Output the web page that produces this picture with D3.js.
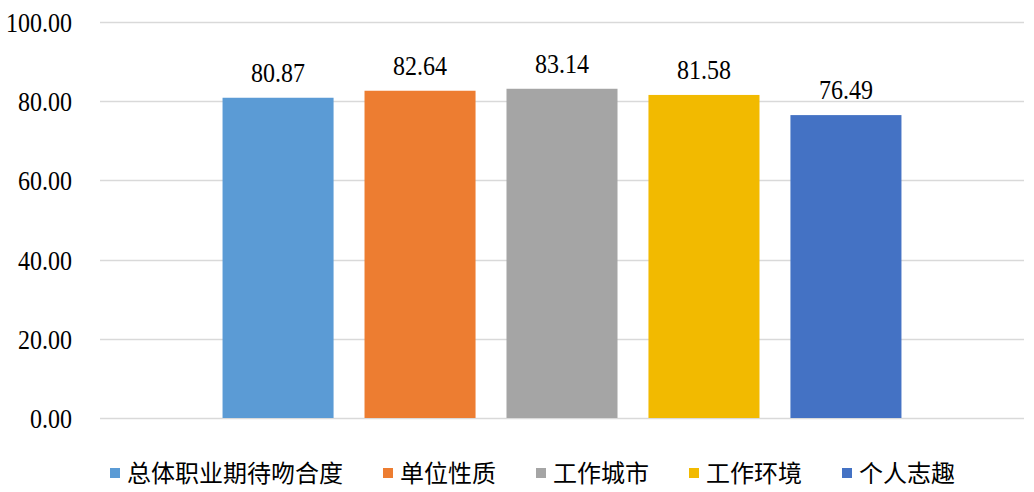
<!DOCTYPE html>
<html><head><meta charset="utf-8">
<script src="https://cdn.jsdelivr.net/npm/d3@7/dist/d3.min.js"></script>
<style>body{margin:0;background:#fff}svg{display:block}</style>
</head><body>
<svg id="c" width="1034" height="492"></svg>
<script>
const categories = ["总体职业期待吻合度", "单位性质", "工作城市", "工作环境", "个人志趣"];
const values = [80.87, 82.64, 83.14, 81.58, 76.49];
const colors = ["#5B9BD5", "#ED7D31", "#A5A5A5", "#F2BA00", "#4472C4"];
const yTicks = [0, 20, 40, 60, 80, 100];

const SERIF = '"Liberation Serif"';
const SERIF_PX = 28;      // rendered size (serif glyphs)
const SQUEEZE = 24 / 28;  // horizontal squeeze to match reference widths
const CJK = '"Noto Sans CJK SC"';

const svg = d3.select("#c");
const W = 1034, H = 492;
const m = {left: 100, right: 10, top: 22, bottom: 74};
const x0 = d3.scaleBand().domain(["g"]).range([m.left, W - m.right]).paddingInner(0).paddingOuter(0.1805);
const x = d3.scaleBand().domain(categories).range([x0("g"), x0("g") + x0.bandwidth()]).paddingInner(0.218).paddingOuter(0);
const y = d3.scaleLinear().domain([0, 100]).range([H - m.bottom, m.top]);

function squeeze(sel, anchorX, mode) {
  sel.each(function() {
    const node = this;
    const len = node.getComputedTextLength();
    const target = len * SQUEEZE;
    const ax = anchorX(node);
    const sx = mode === "end" ? ax - target : ax - target / 2;
    d3.select(node).attr("text-anchor", "start").attr("x", sx)
      .attr("textLength", target).attr("lengthAdjust", "spacingAndGlyphs");
  });
}

// gridlines
svg.append("g").selectAll("line").data(yTicks).join("line")
  .attr("x1", m.left).attr("x2", W - m.right)
  .attr("y1", d => Math.round(y(d)) + 0.5).attr("y2", d => Math.round(y(d)) + 0.5)
  .attr("stroke", "#D9D9D9").attr("stroke-width", 1.5);

// y axis labels
const yAxis = d3.axisLeft(y).tickValues(yTicks).tickFormat(d3.format(".2f")).tickSize(0).tickPadding(0);
const ga = svg.append("g").attr("transform", `translate(72,0)`).call(yAxis);
ga.select(".domain").remove();
ga.selectAll("text").style("font-family", SERIF).style("font-size", SERIF_PX + "px")
  .attr("fill", "#000").attr("dy", "0.34em").attr("text-anchor", "start").attr("x", 0);
squeeze(ga.selectAll("text"), () => 0, "end");

// bars
svg.append("g").selectAll("rect").data(values).join("rect")
  .attr("x", (d, i) => x(categories[i]))
  .attr("width", x.bandwidth())
  .attr("y", d => y(d))
  .attr("height", d => y(0) - y(d))
  .attr("fill", (d, i) => colors[i]);

// data labels
const labels = svg.append("g").selectAll("text").data(values).join("text")
  .attr("x", 0)
  .attr("y", d => y(d) - 16)
  .attr("text-anchor", "start")
  .style("font-family", SERIF).style("font-size", SERIF_PX + "px").attr("fill", "#000")
  .text(d => d.toFixed(2));
squeeze(labels, node => { const i = values.indexOf(d3.select(node).datum()); return x(categories[i]) + x.bandwidth() / 2; }, "middle");

// legend
const lg = svg.append("g");
let lx = 110;
const ly = 473;
categories.forEach((c, i) => {
  lg.append("rect").attr("x", lx).attr("y", ly - 5).attr("width", 10).attr("height", 10).attr("fill", colors[i]);
  const t = lg.append("text").attr("x", lx + 17).attr("y", ly).attr("dy", "0.36em")
    .style("font-family", CJK).style("font-size", "24px").attr("fill", "#000").text(c);
  const w = t.node().getComputedTextLength();
  lx += 17 + w + 40;
});
</script>
</body></html>
